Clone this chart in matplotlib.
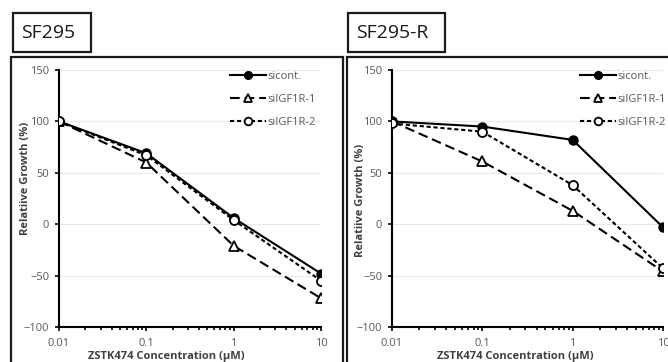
import matplotlib
matplotlib.use("Agg")
from matplotlib import pyplot as plt
from matplotlib.patches import Rectangle

# data
conc = [0.01, 0.1, 1, 10]

sf295_sicont = [100, 69, 6, -48]
sf295_si1 = [100, 60, -21, -72]
sf295_si2 = [100, 67, 4, -55]

sf295r_sicont = [100, 95, 82, -3]
sf295r_si1 = [100, 61, 13, -46]
sf295r_si2 = [98, 90, 38, -43]

series_names = ["sicont.", "siIGF1R-1", "siIGF1R-2"]
panel_titles = ["SF295", "SF295-R"]
ylabel_text = "Relatiive Growth (%)"
xlabel_text = "ZSTK474 Concentration (\u03bcM)"

plt.rcParams["font.family"] = ["Open Sans", "DejaVu Sans"]
plt.rcParams["lines.scale_dashes"] = False

W, H = 668, 362
fig = plt.figure(figsize=(W / 100, H / 100), dpi=100)


def px(x0, y0, x1, y1):
    # pixel box -> figure fraction [left, bottom, width, height]
    return [x0 / W, 1 - y1 / H, (x1 - x0) / W, (y1 - y0) / H]


# panel frames and title boxes
for (x0, y0, x1, y1) in [(11, 57, 343, 380), (347, 57, 700, 380),
                         (13, 13, 91, 52), (348, 13, 445, 52)]:
    l, b, w, h = px(x0, y0, x1, y1)
    fig.patches.append(Rectangle((l, b), w, h, transform=fig.transFigure,
                                 fill=False, ec="#1a1a1a", lw=1.6))

fig.text(21 / W, 1 - 33 / H, panel_titles[0], fontsize=14, va="center", color="#1a1a1a")
fig.text(356 / W, 1 - 33 / H, panel_titles[1], fontsize=14, va="center", color="#1a1a1a")

panels = [
    dict(box=(59, 70, 321, 327), data=(sf295_sicont, sf295_si1, sf295_si2),
         ylab=(-0.107, 0.58), xlab=(0.41, -0.093), leg=0.653),
    dict(box=(392, 70, 663, 327), data=(sf295r_sicont, sf295r_si1, sf295r_si2),
         ylab=(-0.096, 0.494), xlab=(0.454, -0.093), leg=0.694),
]

for p in panels:
    ax = fig.add_axes(px(*p["box"]))
    s0, s1, s2 = p["data"]
    ax.plot(conc, s0, "-o", color="black", lw=1.5, ms=6.5,
            label=series_names[0], zorder=3)
    ax.plot(conc, s1, "^", ls=(0, (7, 3.5)), color="black", lw=1.5, ms=6.5,
            mfc="white", mew=1.3, label=series_names[1], zorder=3)
    ax.plot(conc, s2, "o", ls=(0, (3, 2)), color="black", lw=1.5, ms=6.5,
            mfc="white", mew=1.3, label=series_names[2], zorder=3)

    ax.set_xscale("log")
    ax.set_xlim(0.01, 10)
    ax.set_ylim(-100, 150)
    ax.set_yticks([-100, -50, 0, 50, 100, 150])
    ax.set_xticks(conc)
    ax.set_xticklabels(["0.01", "0.1", "1", "10"])
    ax.grid(axis="y", color="#e8e8e8", lw=0.8)
    ax.set_axisbelow(True)
    for s in ["top", "right"]:
        ax.spines[s].set_visible(False)
    for s in ["left", "bottom"]:
        ax.spines[s].set_linewidth(1.5)
    ax.tick_params(which="major", direction="out", length=3, width=1.2,
                   labelsize=8, labelcolor="#595959", pad=4)
    ax.tick_params(which="minor", direction="out", length=2, width=1.2)
    ax.xaxis.set_tick_params(pad=5)

    ax.set_ylabel(ylabel_text, fontsize=8, fontweight="bold", color="#404040")
    ax.yaxis.set_label_coords(*p["ylab"])
    ax.set_xlabel(xlabel_text, fontsize=8, fontweight="bold", color="#404040")
    ax.xaxis.set_label_coords(*p["xlab"])

    ax.legend(loc="upper left", bbox_to_anchor=(p["leg"], 0.995), frameon=False,
              fontsize=8, labelcolor="#595959", handlelength=3.2,
              handletextpad=0.2, labelspacing=1.05, borderpad=0,
              borderaxespad=0, markerscale=0.85)

fig.savefig("out.png", dpi=100)
